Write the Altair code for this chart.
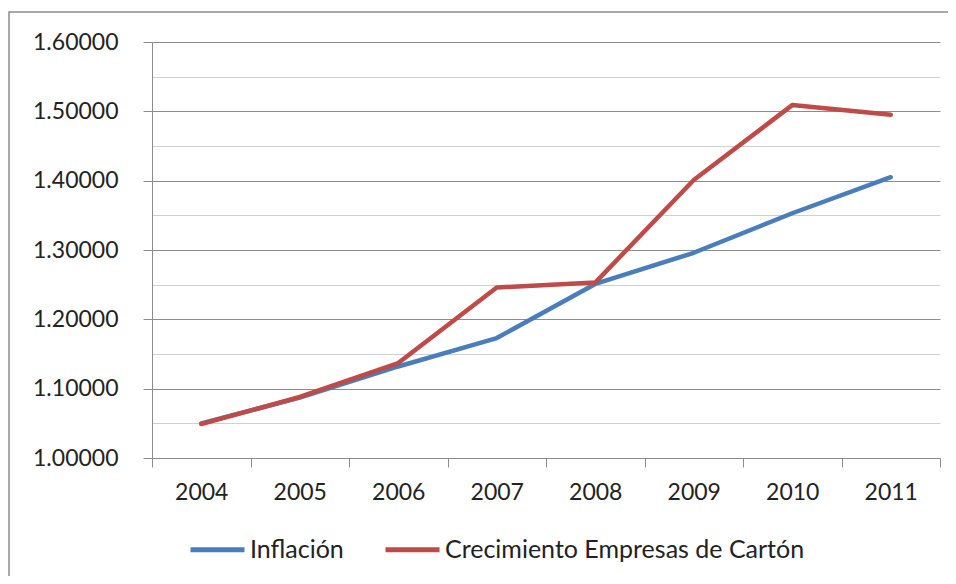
import altair as alt
import pandas as pd

years = ["2004", "2005", "2006", "2007", "2008", "2009", "2010", "2011"]
inflacion = [1.050, 1.087, 1.132, 1.173, 1.251, 1.296, 1.353, 1.405]
carton = [1.049, 1.088, 1.137, 1.246, 1.253, 1.401, 1.509, 1.495]
series_names = ["Inflación", "Crecimiento Empresas de Cartón"]
series_colors = ["#4A7EBB", "#BE4B48"]
y_ticks = [1.00, 1.05, 1.10, 1.15, 1.20, 1.25, 1.30, 1.35, 1.40, 1.45, 1.50, 1.55, 1.60]

df = pd.DataFrame({
    "year": years * 2,
    "value": inflacion + carton,
    "serie": [series_names[0]] * len(years) + [series_names[1]] * len(years),
})

major = "abs(datum.value*10 - round(datum.value*10)) < 0.01"

x_enc = alt.X(
    "year:O",
    bandPosition=0.5,
    scale=alt.Scale(type="band", paddingInner=0, paddingOuter=0),
    axis=alt.Axis(
        title=None, tickBand="extent", labelAngle=0, tickSize=9,
        tickColor="#8c8c8c", domainColor="#8c8c8c", labelPadding=14,
        labelFontSize=23, labelColor="#222222", grid=False,
    ),
)
y_enc = alt.Y(
    "value:Q",
    scale=alt.Scale(domain=[1.0, 1.6], nice=False, zero=False),
    axis=alt.Axis(
        title=None, values=y_ticks,
        labelExpr=f"{major} ? format(datum.value, '.5f') : ''",
        gridColor={"condition": {"test": major, "value": "#8c8c8c"}, "value": "#d0d0d0"},
        tickOpacity={"condition": {"test": major, "value": 1}, "value": 0},
        tickColor="#8c8c8c", tickSize=9, domainColor="#8c8c8c",
        labelPadding=25, labelFontSize=23, labelColor="#222222",
    ),
)
color_enc = alt.Color(
    "serie:N",
    scale=alt.Scale(domain=series_names, range=series_colors),
    legend=alt.Legend(
        title=None, orient="none", direction="horizontal", legendX=36, legendY=478,
        symbolType="stroke", symbolSize=2916, symbolStrokeWidth=5,
        labelFontSize=25, labelColor="#222222", labelOffset=3, columnPadding=31,
        labelLimit=0, padding=0,
    ),
)

base = alt.Chart(df).mark_line(strokeWidth=4.5, strokeCap="round", strokeJoin="round").encode(
    x=x_enc, y=y_enc, color=color_enc
)
blue = base.transform_filter(alt.datum.serie == series_names[0])
red = base.transform_filter(alt.datum.serie == series_names[1])

frame = alt.Chart(pd.DataFrame({"a": [0]})).mark_rect(
    fill=None, stroke="#8c8c8c", strokeWidth=1.5
).encode(x=alt.value(-143), x2=alt.value(799), y=alt.value(-30), y2=alt.value(600))

chart = alt.layer(frame, blue, red).properties(
    width=788, height=416,
    autosize=alt.AutoSizeParams(type="none"),
    padding={"left": 144, "top": 34, "right": 8, "bottom": 118},
).configure(font="Lato").configure_view(stroke=None)

chart.save("out.html", embed_options={"renderer": "svg", "actions": False})
